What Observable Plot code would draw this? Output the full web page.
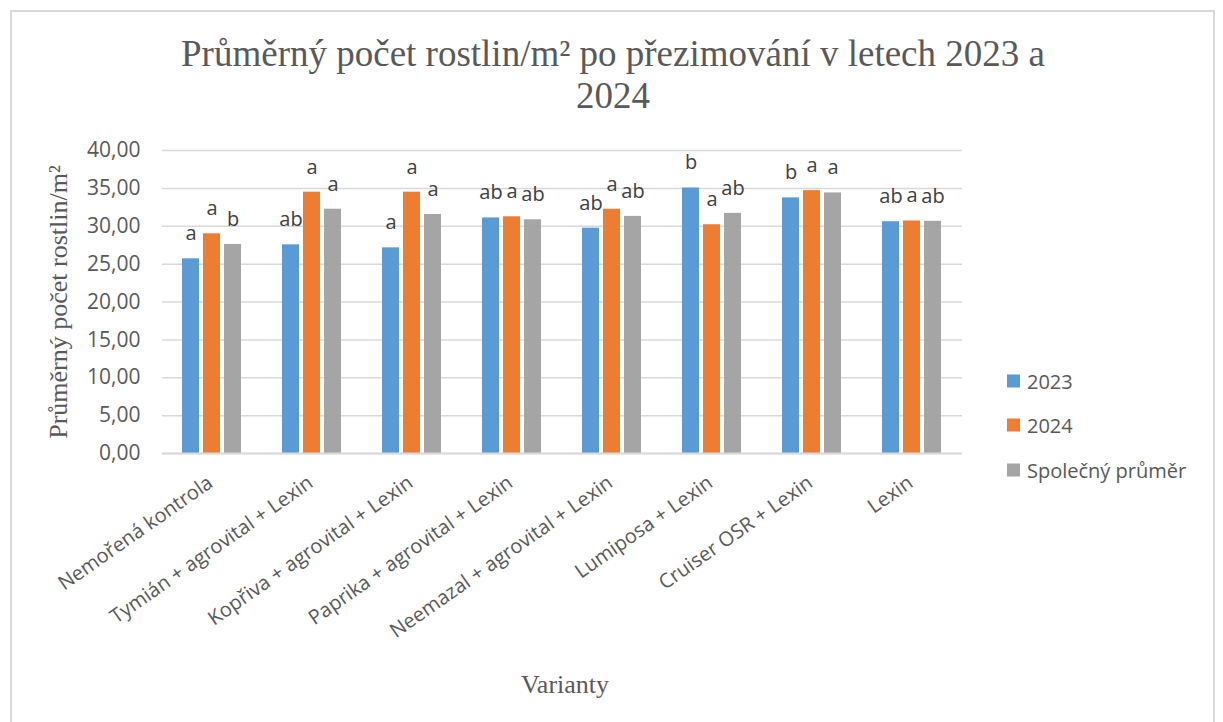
<!DOCTYPE html>
<html>
<head>
<meta charset="utf-8">
<script src="https://cdn.jsdelivr.net/npm/d3@7"></script>
<script src="https://cdn.jsdelivr.net/npm/@observablehq/plot@0.6"></script>
<style>
  html, body { margin: 0; padding: 0; background: #fff; }
  body { width: 1223px; height: 722px; position: relative; overflow: hidden; }
  #frame { position: absolute; left: 10px; top: 10px; width: 1205px; height: 740px;
           border: 2px solid #d9d9d9; box-sizing: border-box; }
  #title { position: absolute; left: 10px; top: 33px; width: 1206px; text-align: center;
           font-family: "Liberation Serif", "Times New Roman", serif; font-size: 37px;
           line-height: 42px; color: #595959; }
  #ytitle { position: absolute; left: 59px; top: 302px; transform: translate(-50%, -50%) rotate(-90deg);
            white-space: nowrap; font-family: "Liberation Serif", serif; font-size: 26px; color: #595959; }
  #xtitle { position: absolute; left: 565px; top: 685px; transform: translate(-50%, -50%);
            white-space: nowrap; font-family: "Liberation Serif", serif; font-size: 26px; color: #595959; }
  #chart { position: absolute; left: 0; top: 0; }
  #legend { position: absolute; left: 1007px; top: 0; font-family: "Open Sans", sans-serif;
            font-size: 20px; color: #595959; }
  .item { position: absolute; left: 0; display: flex; align-items: center; white-space: nowrap; transform: translateY(-50%); }
  .sw { width: 13px; height: 13px; margin-right: 7px; }
</style>
</head>
<body>
<div id="frame"></div>
<div id="chart"></div>
<div id="title">Průměrný počet rostlin/m² po přezimování v letech 2023 a<br>2024</div>
<div id="ytitle">Průměrný počet rostlin/m²</div>
<div id="xtitle">Varianty</div>
<div id="legend"></div>
<script>
const categories = [
  "Nemořená kontrola",
  "Tymián + agrovital + Lexin",
  "Kopřiva + agrovital + Lexin",
  "Paprika + agrovital + Lexin",
  "Neemazal + agrovital + Lexin",
  "Lumiposa + Lexin",
  "Cruiser OSR + Lexin",
  "Lexin"
];
const seriesNames = ["2023", "2024", "Společný průměr"];
const seriesColors = ["#5B9BD5", "#ED7D31", "#A5A5A5"];
const values2023 = [25.7, 27.55, 27.15, 31.1, 29.75, 35.05, 33.75, 30.6];
const values2024 = [29.0, 34.5, 34.5, 31.25, 32.25, 30.2, 34.7, 30.7];
const valuesAvg  = [27.6, 32.25, 31.55, 30.85, 31.3, 31.7, 34.4, 30.65];
const letters2023 = ["a", "ab", "a", "ab", "ab", "b", "b", "ab"];
const letters2024 = ["a", "a", "a", "a", "a", "a", "a", "a"];
const lettersAvg  = ["b", "a", "a", "ab", "ab", "ab", "a", "ab"];
const yTicks = [0, 5, 10, 15, 20, 25, 30, 35, 40];

const seriesValues = [values2023, values2024, valuesAvg];
const seriesLetters = [letters2023, letters2024, lettersAvg];
const data = [];
categories.forEach((c, i) => {
  seriesNames.forEach((s, j) => {
    data.push({cat: c, series: s, value: seriesValues[j][i], letter: seriesLetters[j][i]});
  });
});

const chart = Plot.plot({
  width: 1223,
  height: 722,
  marginLeft: 159,
  marginRight: 259,
  marginTop: 150,
  marginBottom: 269,
  style: {fontFamily: "'Open Sans', sans-serif", background: "transparent", overflow: "visible"},
  fx: {domain: categories, padding: 0, label: null},
  x: {domain: seriesNames, paddingInner: 0.18, paddingOuter: 0.88, axis: null},
  y: {domain: [0, 40], label: null},
  color: {domain: seriesNames, range: seriesColors},
  marks: [
    Plot.gridY(yTicks, {stroke: "#d9d9d9", strokeOpacity: 1, strokeWidth: 1.5}),
    Plot.axisY(yTicks, {
      tickFormat: d => d.toFixed(2).replace(".", ","),
      tickSize: 0, tickPadding: 22, fontSize: 21, fill: "#595959", label: null
    }),
    Plot.axisFx({
      anchor: "bottom",
      tickRotate: -35, tickSize: 0, tickPadding: 27, dx: -2,
      fontSize: 20, fill: "#595959", label: null, textOverflow: null, lineWidth: Infinity
    }),
    Plot.barY(data, {fx: "cat", x: "series", y: "value", fill: "series"}),
    Plot.ruleY([0], {stroke: "#d9d9d9", strokeWidth: 2}),
    Plot.text(data, {fx: "cat", x: "series", y: "value", text: "letter", dy: -25,
      fontSize: 20, fill: "#404040"})
  ]
});
document.getElementById("chart").appendChild(chart);

const legend = document.getElementById("legend");
const rowY = [381, 425, 470];
seriesNames.forEach((s, j) => {
  const item = document.createElement("div");
  item.className = "item";
  item.style.top = rowY[j] + "px";
  const sw = document.createElement("div");
  sw.className = "sw";
  sw.style.background = seriesColors[j];
  const t = document.createElement("span");
  t.textContent = s;
  item.appendChild(sw);
  item.appendChild(t);
  legend.appendChild(item);
});
</script>
</body>
</html>
